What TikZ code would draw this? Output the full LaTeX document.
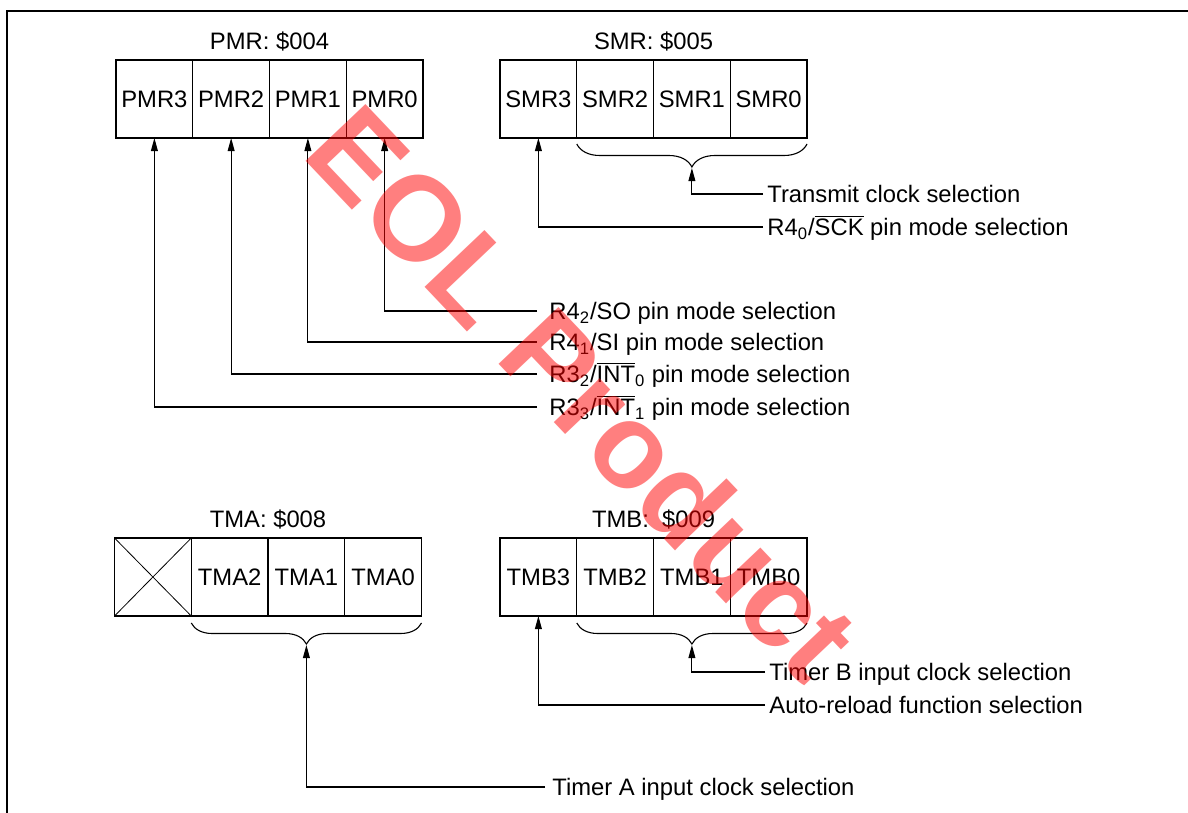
\documentclass[tikz,border=0pt]{standalone}
\usepackage{fontspec}
\setmainfont{Liberation Sans}
\usetikzlibrary{positioning,arrows.meta,decorations.pathreplacing}

\begin{document}
\begin{tikzpicture}[x=0.5pt,y=-0.5pt,
    font=\fontsize{11.9}{14}\selectfont,
    bitcell/.style={draw, line width=0.65pt, minimum width=38.375pt, minimum height=39pt,
        inner sep=0pt, outer sep=0pt, text height=8.5pt, text depth=0pt},
    regname/.style={inner sep=0pt, text height=8.5pt, text depth=0pt},
    sel/.style={anchor=west, inner xsep=#1, inner ysep=0pt, text height=8.5pt, text depth=0pt},
    sel/.default=2pt,
    arr/.style={-{Triangle[length=6.5pt,width=3.4pt]}, line width=0.55pt},
    regbrace/.style={decorate, decoration={brace, mirror, amplitude=#1}, line width=0.55pt}]
    \useasboundingbox (0,0) rectangle (1188,813);
    \draw[line width=0.65pt] (7,813) -- (7,11) -- (1188,11);

    % PMR
    \node[bitcell] (pmr3) at (154.4,99) {PMR3};
    \node[bitcell, right=0pt of pmr3] (pmr2) {PMR2};
    \node[bitcell, right=0pt of pmr2] (pmr1) {PMR1};
    \node[bitcell, right=0pt of pmr1] (pmr0) {PMR0};
    \node[regname, above=5pt of pmr2.north east] (pmrname) {PMR: \$004};

    % SMR
    \node[bitcell] (smr3) at (538.4,99) {SMR3};
    \node[bitcell, right=0pt of smr3] (smr2) {SMR2};
    \node[bitcell, right=0pt of smr2] (smr1) {SMR1};
    \node[bitcell, right=0pt of smr1] (smr0) {SMR0};
    \node[regname, above=5pt of smr2.north east] (smrname) {SMR: \$005};

    % TMA
    \node[bitcell] (tmax) at (152.9,577) {};
    \node[bitcell, right=0pt of tmax] (tma2) {TMA2};
    \node[bitcell, right=0pt of tma2] (tma1) {TMA1};
    \node[bitcell, right=0pt of tma1] (tma0) {TMA0};
    \node[regname, above=5pt of tma2.north east] (tmaname) {TMA: \$008};
    \draw[line width=0.4pt] (tmax.north west) -- (tmax.south east)
        (tmax.south west) -- (tmax.north east);

    % TMB
    \node[bitcell] (tmb3) at (538.4,577) {TMB3};
    \node[bitcell, right=0pt of tmb3] (tmb2) {TMB2};
    \node[bitcell, right=0pt of tmb2] (tmb1) {TMB1};
    \node[bitcell, right=0pt of tmb1] (tmb0) {TMB0};
    \node[regname, above=5pt of tmb2.north east] (tmbname) {TMB:~ \$009};

    % braces
    \draw[regbrace=11.5pt] ([yshift=-3pt]smr2.south west) -- ([yshift=-3pt]smr0.south east);
    \draw[regbrace=10.5pt] ([yshift=-3.5pt]tma2.south west) -- ([yshift=-3.5pt]tma0.south east);
    \draw[regbrace=10.5pt] ([yshift=-3.5pt]tmb2.south west) -- ([yshift=-3.5pt]tmb0.south east);
    \coordinate (smrtip) at (691.9,168);
    \coordinate (tmatip) at (306.4,645);
    \coordinate (tmbtip) at (691.9,645);

    % selections
    \node[sel=6pt] (so) at (537,311) {R4\textsubscript{2}/SO pin mode selection};
    \node[sel=6pt] (si) at (537,342) {R4\textsubscript{1}/SI pin mode selection};
    \node[sel=6pt] (int0) at (537,374) {R3\textsubscript{2}/$\overline{\mbox{INT}}$\textsubscript{0} pin mode selection};
    \node[sel=6pt] (int1) at (537,407) {R3\textsubscript{3}/$\overline{\mbox{INT}}$\textsubscript{1} pin mode selection};
    \node[sel] (txclk) at (763,194) {Transmit clock selection};
    \node[sel] (sck) at (763,227) {R4\textsubscript{0}/$\overline{\mbox{SCK}}$ pin mode selection};
    \node[sel] (tbclk) at (765,672) {Timer B input clock selection};
    \node[sel] (reload) at (765,705) {Auto-reload function selection};
    \node[sel=3.5pt] (taclk) at (545,787) {Timer A input clock selection};

    \draw[arr] (so.west) -| (pmr0.south);
    \draw[arr] (si.west) -| (pmr1.south);
    \draw[arr] (int0.west) -| (pmr2.south);
    \draw[arr] (int1.west) -| (pmr3.south);
    \draw[arr] (txclk.west) -| (smrtip);
    \draw[arr] (sck.west) -| (smr3.south);
    \draw[arr] (tbclk.west) -| (tmbtip);
    \draw[arr] (reload.west) -| (tmb3.south);
    \draw[arr] (taclk.west) -| (tmatip);

    \node[rotate=-46.5, text=red, opacity=0.5, font=\fontsize{60}{64}\selectfont\bfseries] (eol) at (584,392) {EOL Product};
\end{tikzpicture}
\end{document}
